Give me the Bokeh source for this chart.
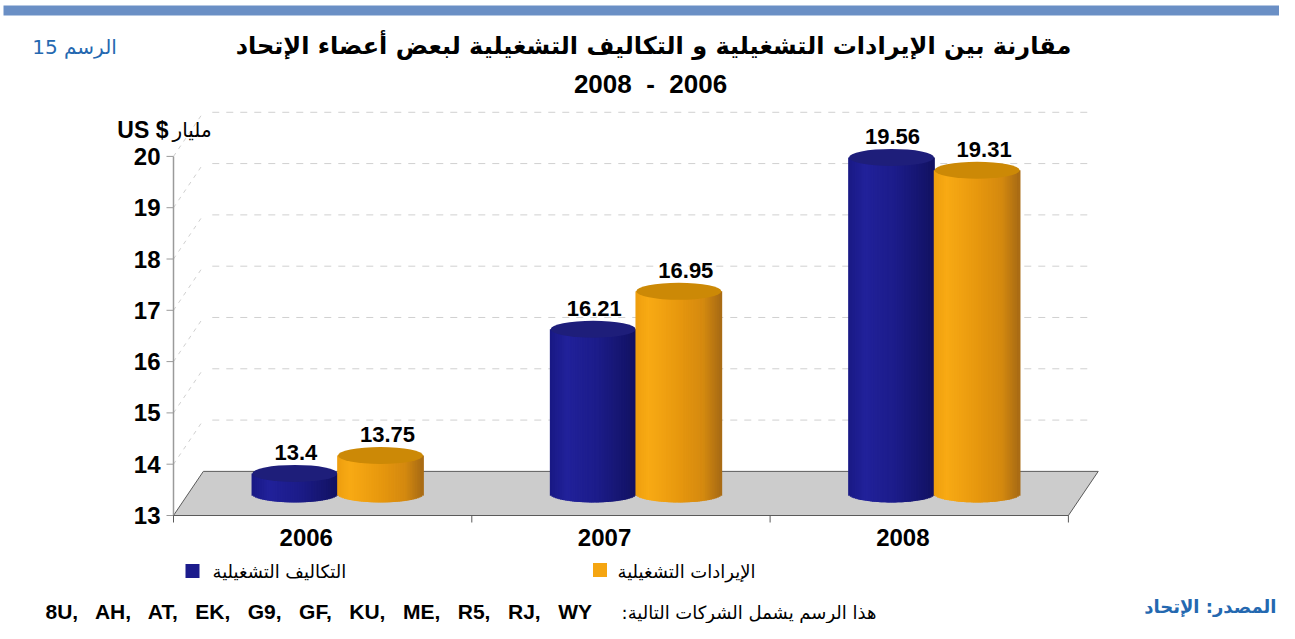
import numpy as np
from bokeh.plotting import figure
from bokeh.models import Range1d, ColumnDataSource
from bokeh.embed import file_html
from bokeh.resources import INLINE
from bokeh.core.properties import value

# ---------------- data ----------------
years = ["2006", "2007", "2008"]
costs = [13.4, 16.21, 19.56]          # التكاليف التشغيلية
revenues = [13.75, 16.95, 19.31]      # الإيرادات التشغيلية
y_ticks = [13, 14, 15, 16, 17, 18, 19, 20]
series_names = ["التكاليف التشغيلية", "الإيرادات التشغيلية"]
title_line1 = "مقارنة بين الإيرادات التشغيلية و التكاليف التشغيلية لبعض أعضاء الإتحاد"
title_line2 = "2008\u00a0\u00a0-\u00a0\u00a02006"
chart_no = "الرسم 15"
unit_en = "US $"
unit_ar = "مليار"
carriers = ["8U", "AH", "AT", "EK", "G9", "GF", "KU", "ME", "R5", "RJ", "WY"]
carriers_note = ":هذا الرسم يشمل الشركات التالية"
source_note = "المصدر: الإتحاد"

# ---------------- style ----------------
BLUE = "#1C1C8C"
ORANGE = "#F5A511"
BLUE_CAP = "#1E1E7A"
ORANGE_CAP = "#CC8906"
BLUE_STOPS = [(0.0, "#191984"), (0.2, "#21219A"), (0.55, "#1C1C8A"), (1.0, "#121262")]
ORANGE_STOPS = [(0.0, "#EE9E0E"), (0.15, "#F8AA14"), (0.5, "#E8980E"), (0.8, "#D4890F"), (1.0, "#A86B14")]
BAR_COLOR = "#6A8FC5"
AXIS_GRAY = "#9A9A9A"
FLOOR_LINE = "#5A5A5A"
GRID_COLOR = "#D0D0D0"
AR_FONT = "DejaVu Sans"
NUM_FONT = "Liberation Sans"

PAGE_W, PAGE_H = 1279, 623
PX_X, PX_Y = 298.3, 51.3          # pixels per data unit
ORIGIN_X, ORIGIN_Y = 173, 515     # pixel of (x=0, y=13) in the reference
OFFSET = 0


def rx(x):  # reference pixel x -> data x (layout helper)
    return (x - ORIGIN_X) / PX_X


def ry(y):  # reference pixel y -> data y (layout helper)
    return 13 + (ORIGIN_Y - y) / PX_Y


def sx(px):  # a horizontal pixel length in data units
    return px / PX_X


def sy(px):  # a vertical pixel length in data units
    return px / PX_Y


# 3-D depth offsets (in data units)
DX, DY = 0.10, 0.86
LIFT = 0.42
BAR_W = 0.285
CAP_H = 0.33
BLUE_OFF, ORANGE_OFF = 0.407, 0.694
YEAR_OFF = 0.445
N_STRIP = 50


def hex2rgb(h):
    h = h.lstrip("#")
    return np.array([int(h[i:i + 2], 16) for i in (0, 2, 4)], dtype=float)


def grad(stops, t):
    for (t0, c0), (t1, c1) in zip(stops[:-1], stops[1:]):
        if t <= t1:
            f = (t - t0) / (t1 - t0) if t1 > t0 else 0
            c = hex2rgb(c0) * (1 - f) + hex2rgb(c1) * f
            return "#%02x%02x%02x" % tuple(int(round(v)) for v in c)
    return stops[-1][1]


def cylinder_source(values, offset, stops):
    xs, tops, bottoms, colors = [], [], [], []
    for i, v in enumerate(values):
        cx = i + offset
        for j in range(N_STRIP):
            t = (j + 0.5) / N_STRIP
            u = 2 * t - 1
            xs.append(cx - BAR_W / 2 + t * BAR_W)
            tops.append(v + LIFT)
            bottoms.append(13 + LIFT - CAP_H / 2 * np.sqrt(max(0.0, 1 - u * u)))
            colors.append(grad(stops, t))
    return ColumnDataSource(dict(x=xs, top=tops, bottom=bottoms, color=colors))


# ---------------- figure (frame = whole canvas) ----------------
p = figure(width=PAGE_W, height=PAGE_H, toolbar_location=None, output_backend="svg",
           x_range=Range1d(rx(OFFSET), rx(OFFSET + PAGE_W)),
           y_range=Range1d(ry(OFFSET + PAGE_H), ry(OFFSET)),
           min_border=0, x_axis_type=None, y_axis_type=None,
           background_fill_color="white", border_fill_color="white",
           outline_line_color=None)
p.grid.visible = False

# page frame bar (top)
p.quad(left=[rx(3)], right=[rx(1300)], top=[ry(5)], bottom=[ry(15)],
       fill_color=BAR_COLOR, line_color=None)

# floor
p.patch(x=[0, 3, 3 + DX, DX], y=[13, 13, 13 + DY, 13 + DY],
        fill_color="#CCCCCC", line_color=FLOOR_LINE, line_width=1)

# back-wall dashed gridlines and side-wall diagonals
grid_vals = [v for v in y_ticks if v > 13]
p.segment(x0=[DX + 0.03] * len(grid_vals), y0=[v + DY for v in grid_vals],
          x1=[3 + DX - 0.016] * len(grid_vals), y1=[v + DY for v in grid_vals],
          line_color=GRID_COLOR, line_width=1, line_dash="7 7")
p.segment(x0=[0.0] * len(grid_vals), y0=grid_vals,
          x1=[DX] * len(grid_vals), y1=[v + DY for v in grid_vals],
          line_color=GRID_COLOR, line_width=1, line_dash="4 5")

# cylinders
for vals, off, stops, cap in [(costs, BLUE_OFF, BLUE_STOPS, BLUE_CAP),
                              (revenues, ORANGE_OFF, ORANGE_STOPS, ORANGE_CAP)]:
    src = cylinder_source(vals, off, stops)
    p.vbar(x="x", top="top", bottom="bottom", width=BAR_W / N_STRIP * 2.0,
           fill_color="color", line_color=None, source=src)
    p.ellipse(x=[i + off for i in range(len(vals))], y=[v + LIFT for v in vals],
              width=BAR_W, height=CAP_H, fill_color=cap, line_color=None)

# value labels
for vals, off, xo in [(costs, BLUE_OFF, 1), (revenues, ORANGE_OFF, 7)]:
    p.text(x=[i + off for i in range(len(vals))], y=[v + LIFT + CAP_H / 2 for v in vals],
           text=[str(v) for v in vals], text_align="center", text_baseline="bottom",
           x_offset=xo, y_offset=-5, text_font=value(NUM_FONT), text_font_style="bold",
           text_font_size="22px", text_color="black")

# ---------------- y axis (value scale 13..20) ----------------
p.segment(x0=[0], y0=[y_ticks[0]], x1=[0], y1=[y_ticks[-1]], line_color=AXIS_GRAY, line_width=1.5)
p.segment(x0=[-sx(7)] * len(y_ticks), y0=y_ticks, x1=[0] * len(y_ticks), y1=y_ticks,
          line_color=AXIS_GRAY, line_width=1)
p.text(x=[-sx(13)] * len(y_ticks), y=y_ticks, text=[str(v) for v in y_ticks],
       text_align="right", text_baseline="middle", text_font=value(NUM_FONT),
       text_font_style="bold", text_font_size="24px", text_color="black")

# ---------------- x axis (categories) ----------------
bounds = list(range(len(years) + 1))
p.segment(x0=[bounds[0]], y0=[13], x1=[bounds[-1]], y1=[13], line_color=FLOOR_LINE, line_width=1)
p.segment(x0=bounds, y0=[13] * len(bounds), x1=bounds, y1=[13 - sy(7)] * len(bounds),
          line_color=FLOOR_LINE, line_width=1)
p.text(x=[i + YEAR_OFF for i in range(len(years))], y=[13 - sy(22)] * len(years), text=years,
       text_align="center", text_baseline="middle", text_font=value(NUM_FONT),
       text_font_style="bold", text_font_size="24px", text_color="black")

# ---------------- legend ----------------
p.rect(x=[rx(192), rx(599.5)], y=[ry(570.5), ry(569.5)], width=14, height=14,
       width_units="screen", height_units="screen",
       fill_color=[BLUE, ORANGE], line_color=None)
p.text(x=[rx(212), rx(617)], y=[ry(571), ry(571)], text=series_names,
       text_align="left", text_baseline="middle", text_font=value(AR_FONT),
       text_font_size="18px", text_color="black")


# ---------------- texts around the chart ----------------
def lab(text, x, y, size, color="black", bold=False, align="center", font=AR_FONT):
    p.text(x=[rx(x)], y=[ry(y)], text=[text], text_align=align, text_baseline="middle",
           text_font=value(font), text_font_size=size, text_color=color,
           text_font_style="bold" if bold else "normal")


lab(title_line1, 653, 45, "24px", bold=True)
lab(title_line2, 650, 83, "26px", bold=True, font=NUM_FONT)
lab(chart_no, 74, 46, "20px", color="#2468B0")
lab(unit_en, 168, 129, "23px", bold=True, align="right", font=NUM_FONT)
lab(unit_ar, 172, 129, "20px", align="left")
lab(",\u00a0\u00a0 ".join(carriers), 45, 611, "21px", bold=True, align="left", font=NUM_FONT)
lab(carriers_note, 876, 612, "18px", align="right")
lab(source_note, 1276, 606, "18px", color="#2468B0", bold=True, align="right")

open("out.html", "w").write(file_html(p, INLINE))
